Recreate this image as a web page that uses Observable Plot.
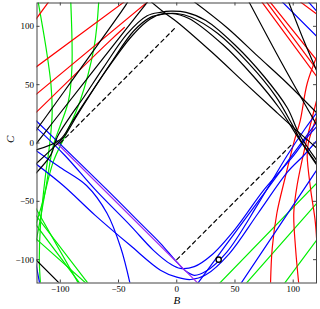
<!DOCTYPE html>
<html><head><meta charset="utf-8">
<script src="https://cdn.jsdelivr.net/npm/d3@7"></script>
<script src="https://cdn.jsdelivr.net/npm/@observablehq/plot@0.6"></script>
<style>body{margin:0;background:#fff}</style>
</head><body><div id="chart"></div>
<script>
const xTicks = [-100, -50, 0, 50, 100];
const yTicks = [-100, -50, 0, 50, 100];

// black curves
const blackA1 = [[-121,10.5],[-108.5,27.8],[-47,113.4],[-42,121]];
const blackA2 = [[62,121],[91,67],[121,14]];
const blackB1 = [[-121,-1],[-108.5,15],[-31,113.4],[-25,121]];
const blackB2 = [[15,121],[43,99],[70,74],[95,51],[121,25]];
const blackC  = [[96,121],[109,88],[121,60]];
const blackH1 = [[-121,-26],[-108,-10],[-102.7,5],[-92,22],[-80,39],[-62.7,65],[-42.6,93.5],[-25.4,109],[-14,112],[-5,113],[8,112],[25,105],[50,84],[75,57],[95,30],[105,8],[121,-16]];
const blackH2 = [[-121,-18],[-104,-2],[-97,5],[-86,23],[-74,42],[-57,67.8],[-37,96],[-22.6,107.7],[-11,110.6],[0,111],[12,108],[35,94],[62,68],[85,40],[99,16],[106,3],[121,-19]];
const blackH3 = [[-121,-6],[-100,3],[-90,18],[-77,38],[-60,63],[-40,90],[-26,104],[-15,110],[-5,111],[10,107],[40,84],[66,57],[88,30],[104,5],[121,-20]];
const blackH5 = [[-22,121],[-11,112],[0,104],[30,78],[60,50],[85,27],[106,8],[121,-5]];
const blackL  = [[-121,-100],[-100,-121]];

// red curves
const red1 = [[-121,106],[-110,121]];
const red2 = [[-121,65],[-45,121]];
const red3 = [[-121,41.5],[-25,121]];
const red4 = [[-121,26],[-57,88],[-45,99]];
const redU1 = [[73,121],[121,56]];
const redU2 = [[77,121],[121,62]];
const redU3 = [[80,121],[121,70]];
const redU4 = [[106,121],[121,110]];
const redV1 = [[121,76],[112,51],[106,19],[101,2],[93,-30],[86,-60],[82,-90],[80.5,-121]];
const redV2 = [[121,40],[110.5,-2],[103.4,-36],[100.5,-60],[102,-90],[104.8,-121]];
const redV3 = [[121,25],[113,0],[112,-11],[115,-40],[119,-68],[121,-100]];

// green curves
const green1 = [[-119,121],[-112,80],[-108,50],[-107,25],[-109,0],[-113,-30],[-117,-70],[-118,-100],[-117,-121]];
const green2 = [[-91,121],[-90,65],[-93,36],[-100,15],[-106,-2],[-112,-36],[-118,-70],[-121,-85]];
const green3 = [[-67,121],[-71,82],[-83,36],[-95,8],[-106,-16],[-115,-50],[-121,-70]];
const greenD1 = [[-121,-56],[-84,-121]];
const greenD2 = [[-121,-62],[-75.6,-121]];
const greenD3 = [[-121,-70],[-82.7,-121]];
const greenD4 = [[-121,-82],[-77,-121]];
const greenR1 = [[36,-121],[121,-33.6]];
const greenR2 = [[59,-121],[121,-50.7]];
const greenR3 = [[92,-121],[121,-82]];

// purple line
const purple1 = [[-103,0],[20,-122]];

// blue curves
const blueT1 = [[90.5,121],[121,90.6]];
const blueT2 = [[113,121],[121,112]];
const blueU1 = [[-121,19.3],[-60,-40],[-30,-70],[-14,-86],[0,-102],[8,-110],[15,-113.4],[25,-110],[43,-93.5],[70,-52],[94.8,-10.7],[110,12],[121,27]];
const blueU2 = [[-121,13.6],[-96,-10.7],[-70,-40],[-40,-70.6],[-20,-92],[-5,-104],[3,-107.5],[15,-106],[30,-96],[50,-74],[75,-40],[100.5,-10.7],[112,5],[121,15]];
const blueU3 = [[-121,-17.8],[-97.5,-36.4],[-70,-62],[-40,-87.7],[-14,-109],[0,-115],[12,-117],[25,-113],[45,-95],[70,-60],[95,-25],[109,-10.7],[121,3]];
const blueL3 = [[-121,-6.4],[-100,-21],[-77.5,-36.4],[-60,-60],[-48,-90],[-40,-121]];
const blueLv = [[-121,-103],[-117.6,-121]];
const blueS1 = [[17.5,-121],[54.7,-70.6],[121,19]];
const blueS2 = [[54.7,-121],[121,-22]];

// dashed diamond sides and marked point
const dashed1 = [[-100,0],[0,100]];
const dashed2 = [[0,-100],[100,0]];
const marker = [[36,-100]];

const groups = [
  ["#00ee00", {green1, green2, green3, greenD1, greenD2, greenD3, greenD4, greenR1, greenR2, greenR3}],
  ["#ff0000", {red1, red2, red3, red4, redU1, redU2, redU3, redU4, redV1, redV2, redV3}],
  ["#0000ff", {blueT1, blueT2, blueU1, blueU2, blueU3, blueL3, blueLv, blueS1, blueS2}],
  ["#a030f0", {purple1}],
  ["#000000", {blackA1, blackA2, blackB1, blackB2, blackC, blackH1, blackH2, blackH3, blackH5, blackL}]
];
function rows(obj) {
  const out = [];
  for (const [id, pts] of Object.entries(obj)) for (const [B, C] of pts) out.push({id, B, C});
  return out;
}
const dashedRows = rows({dashed1, dashed2});

const W = 320, H = 309, mL = 36.5, mR = 4, mT = 2.5, mB = 26.5;
const innerH = H - mT - mB, innerW = W - mL - mR;
const font = "Liberation Serif, Times New Roman, serif";
const fmt = d => d < 0 ? "\u2212" + Math.abs(d) : String(d);

const marks = [];
for (const [color, obj] of groups) {
  marks.push(Plot.line(rows(obj), {x: "B", y: "C", z: "id", stroke: color, strokeWidth: 1.2, curve: "catmull-rom", clip: true}));
}
marks.push(Plot.line(dashedRows, {x: "B", y: "C", z: "id", stroke: "#000", strokeWidth: 1.2, strokeDasharray: "4,3.5", clip: true}));
marks.push(Plot.dot(marker, {x: d => d[0], y: d => d[1], r: 2.6, stroke: "#000", strokeWidth: 1.4, fill: "#fff"}));
marks.push(Plot.frame({stroke: "#444", strokeWidth: 1}));
marks.push(Plot.tickX(xTicks, {x: d => d, insetTop: innerH - 3, stroke: "#444"}));
marks.push(Plot.tickX(xTicks, {x: d => d, insetBottom: innerH - 3, stroke: "#444"}));
marks.push(Plot.tickY(yTicks, {y: d => d, insetRight: innerW - 3, stroke: "#444"}));
marks.push(Plot.tickY(yTicks, {y: d => d, insetLeft: innerW - 3, stroke: "#444"}));
marks.push(Plot.axisX(xTicks, {tickSize: 0, tickPadding: 3, fontSize: 9, tickFormat: fmt, label: null}));
marks.push(Plot.axisY(yTicks, {tickSize: 0, tickPadding: 3, fontSize: 9, tickFormat: fmt, label: null}));
marks.push(Plot.text(["B"], {frameAnchor: "bottom", dy: 20.5, fontSize: 11, fontStyle: "italic", fill: "#000"}));
marks.push(Plot.text(["C"], {frameAnchor: "left", dx: -27, rotate: -90, fontSize: 11, fontStyle: "italic", fill: "#000"}));

const chart = Plot.plot({
  width: W, height: H,
  marginLeft: mL, marginRight: mR, marginTop: mT, marginBottom: mB,
  style: {fontFamily: font, fontSize: "10px", color: "#000", background: "#fff"},
  x: {domain: [-120, 120]},
  y: {domain: [-120, 120]},
  marks
});
document.getElementById("chart").appendChild(chart);
</script></body></html>
